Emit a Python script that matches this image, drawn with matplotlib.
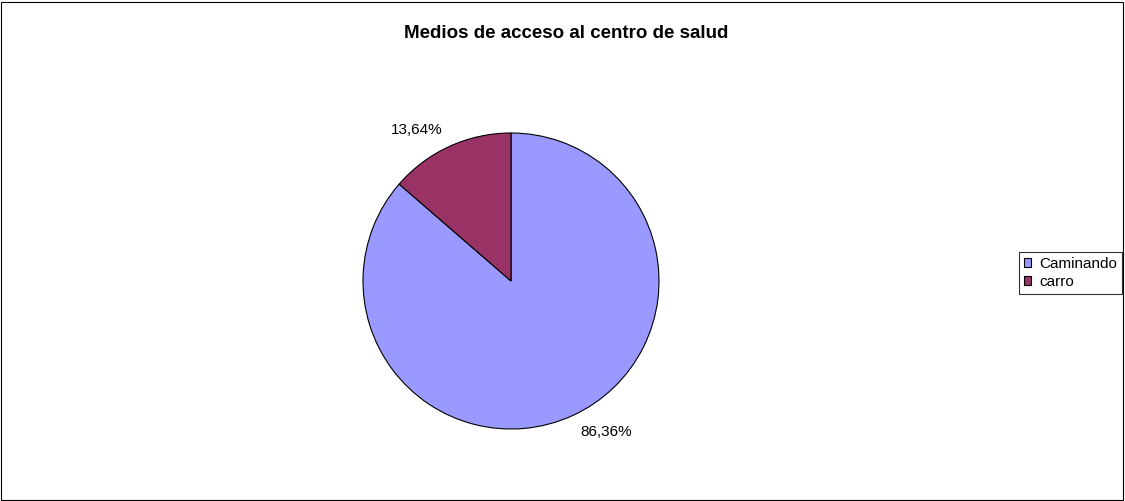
import matplotlib.pyplot as plt
from matplotlib.patches import Rectangle

categories = ["Caminando", "carro"]
values = [86.36, 13.64]
labels = ["86,36%", "13,64%"]
colors = ["#9999FF", "#993366"]

fig = plt.figure(figsize=(11.25, 5.01), dpi=100)
fig.patches.append(Rectangle((0.001, 0.002), 0.997, 0.994, transform=fig.transFigure,
                             fill=False, edgecolor="black", linewidth=0.8))

# pie axes: centre (511, 281) px, radius 148 px
ax = fig.add_axes([(511 - 148) / 1125, (501 - 281 - 148) / 501, 296 / 1125, 296 / 501])
wedges, texts = ax.pie(values, labels=labels, colors=colors, startangle=90, counterclock=False,
                       labeldistance=1.12,
                       wedgeprops=dict(edgecolor="black", linewidth=0.8),
                       textprops=dict(fontsize=11, family="Liberation Sans"))
ax.set_xlim(-1, 1)
ax.set_ylim(-1, 1)
ax.set_aspect("auto")

fig.text(566 / 1125, 1 - 33 / 501, "Medios de acceso al centro de salud", ha="center", va="center",
         fontsize=13.5, fontweight="bold", family="Liberation Sans")

leg = fig.legend(wedges, categories, loc="upper left", bbox_to_anchor=(1019 / 1125, 1 - 252 / 501),
                 frameon=True, fancybox=False, edgecolor="black", handlelength=0.5, handleheight=0.5,
                 handletextpad=0.55, borderpad=0.3, labelspacing=0.3, borderaxespad=0,
                 prop=dict(family="Liberation Sans", size=11))
leg.get_frame().set_linewidth(0.8)

fig.savefig("out.png", dpi=100)
